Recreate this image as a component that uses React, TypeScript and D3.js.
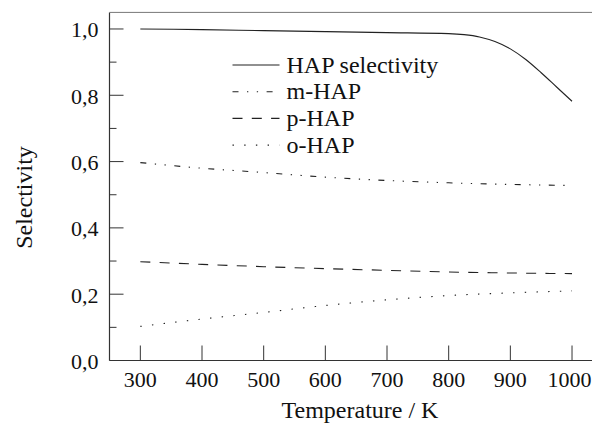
import React, { useEffect, useRef } from 'react';
import * as d3 from 'd3';

// HAP selectivity, denser near the knee
const hapTemps = [300, 400, 500, 600, 700, 800, 825, 850, 875, 900, 925, 950, 975, 1000];
const hapValues = [1.0, 0.998, 0.995, 0.992, 0.989, 0.986, 0.983, 0.976, 0.962, 0.94, 0.908, 0.868, 0.825, 0.782];

const isoTemps = [300, 400, 500, 600, 700, 800, 900, 1000];
const mHapValues = [0.597, 0.58, 0.567, 0.553, 0.543, 0.536, 0.531, 0.528];
const pHapValues = [0.298, 0.29, 0.283, 0.277, 0.272, 0.267, 0.264, 0.262];
const oHapValues = [0.103, 0.125, 0.145, 0.166, 0.183, 0.196, 0.204, 0.21];

const xTicks = [300, 400, 500, 600, 700, 800, 900, 1000];
const yTicks = [0, 0.2, 0.4, 0.6, 0.8, 1.0];
const yMinorTicks = [0.1, 0.3, 0.5, 0.7, 0.9];

const legendLabels = ['HAP selectivity', 'm-HAP', 'p-HAP', 'o-HAP'];
const dashes = [null, '6,8.5,1.3,8.5,1.3,8.5', '10,9.3', '1.4,10.3'];

const FONT = '"Liberation Serif", "Times New Roman", Times, "DejaVu Serif", serif';

const App: React.FC = () => {
  const ref = useRef<SVGSVGElement>(null);

  useEffect(() => {
    const svg = d3.select(ref.current);
    svg.selectAll('*').remove();

    const x = d3.scaleLinear().domain([250, 1035]).range([109.5, 593.6]);
    const y = d3.scaleLinear().domain([0, 1.05]).range([360.5, 12.4]);

    const axisColor = '#333';

    // frame: left, bottom, top
    svg.append('line')
      .attr('x1', x(250)).attr('x2', x(250))
      .attr('y1', y(1.05)).attr('y2', y(0))
      .attr('stroke', axisColor).attr('stroke-width', 1.2);
    svg.append('line')
      .attr('x1', x(250)).attr('x2', x(1035))
      .attr('y1', y(0)).attr('y2', y(0))
      .attr('stroke', axisColor).attr('stroke-width', 1.2);
    svg.append('line')
      .attr('x1', x(250)).attr('x2', x(1035))
      .attr('y1', y(1.05)).attr('y2', y(1.05))
      .attr('stroke', '#777').attr('stroke-width', 1);

    // y ticks (inward)
    svg.selectAll('line.ytick')
      .data(yTicks)
      .enter()
      .append('line')
      .attr('class', 'ytick')
      .attr('x1', x(250)).attr('x2', x(250) + 14)
      .attr('y1', d => y(d)).attr('y2', d => y(d))
      .attr('stroke', axisColor).attr('stroke-width', 1);
    svg.selectAll('line.yminor')
      .data(yMinorTicks)
      .enter()
      .append('line')
      .attr('class', 'yminor')
      .attr('x1', x(250)).attr('x2', x(250) + 7)
      .attr('y1', d => y(d)).attr('y2', d => y(d))
      .attr('stroke', axisColor).attr('stroke-width', 1);
    svg.selectAll('text.ylab')
      .data(yTicks)
      .enter()
      .append('text')
      .attr('class', 'ylab')
      .attr('x', x(250) - 11)
      .attr('y', d => y(d) + 8.5)
      .attr('text-anchor', 'end')
      .style('font-family', FONT)
      .style('font-size', '22px')
      .attr('fill', '#111')
      .text(d => d3.format('.1f')(d).replace('.', ','));

    // x ticks (inward)
    svg.selectAll('line.xtick')
      .data(xTicks)
      .enter()
      .append('line')
      .attr('class', 'xtick')
      .attr('x1', d => x(d)).attr('x2', d => x(d))
      .attr('y1', y(0)).attr('y2', y(0) - 15)
      .attr('stroke', axisColor).attr('stroke-width', 1);
    svg.selectAll('text.xlab')
      .data(xTicks)
      .enter()
      .append('text')
      .attr('class', 'xlab')
      .attr('x', d => (d === 1000 ? x(d) - 2.5 : x(d)))
      .attr('y', 386.5)
      .attr('text-anchor', 'middle')
      .style('font-family', FONT)
      .style('font-size', '22px')
      .attr('fill', '#111')
      .text(d => String(d));

    // axis titles
    svg.append('text')
      .attr('x', 360)
      .attr('y', 418)
      .attr('text-anchor', 'middle')
      .style('font-family', FONT)
      .style('font-size', '24px')
      .attr('fill', '#111')
      .text('Temperature / K');
    svg.append('text')
      .attr('transform', `translate(32,197.5) rotate(-90)`)
      .attr('text-anchor', 'middle')
      .style('font-family', FONT)
      .style('font-size', '24px')
      .attr('fill', '#111')
      .text('Selectivity');

    const line = d3.line<[number, number]>()
      .x(d => x(d[0]))
      .y(d => y(d[1]))
      .curve(d3.curveMonotoneX);

    const series: [number, number][][] = [
      hapTemps.map((t, i) => [t, hapValues[i]]),
      isoTemps.map((t, i) => [t, mHapValues[i]]),
      isoTemps.map((t, i) => [t, pHapValues[i]]),
      isoTemps.map((t, i) => [t, oHapValues[i]]),
    ];

    series.forEach((s, i) => {
      svg.append('path')
        .datum(s)
        .attr('d', line)
        .attr('fill', 'none')
        .attr('stroke', '#222')
        .attr('stroke-width', 1.1)
        .attr('stroke-dasharray', dashes[i]);
    });

    // legend
    const legend = svg.append('g').attr('transform', 'translate(232.5,65)');
    legendLabels.forEach((label, i) => {
      const row = legend.append('g').attr('transform', `translate(0,${i * 26.7})`);
      row.append('line')
        .attr('x1', 0).attr('x2', 47)
        .attr('y1', 0).attr('y2', 0)
        .attr('stroke', '#222')
        .attr('stroke-width', 1.1)
        .attr('stroke-dasharray', dashes[i]);
      row.append('text')
        .attr('x', 54)
        .attr('y', 7.5)
        .style('font-family', FONT)
        .style('font-size', '24px')
        .attr('fill', '#111')
        .text(label);
    });
  }, []);

  return (
    <svg
      ref={ref}
      width={592}
      height={423}
      style={{ position: 'absolute', left: 0, top: 0, background: '#fff' }}
    />
  );
};

export default App;
